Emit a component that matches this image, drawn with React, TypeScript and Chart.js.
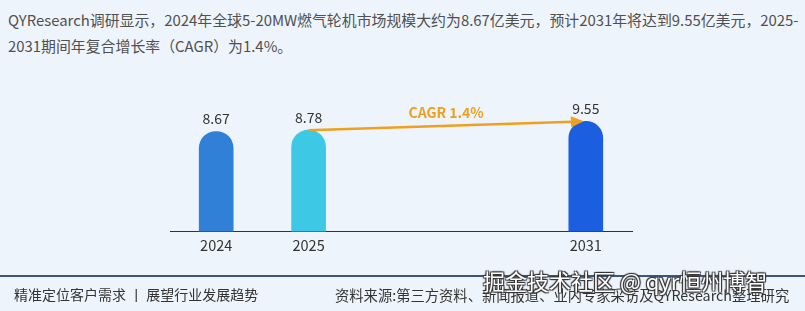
import React, { useEffect, useRef } from "react";
import { Chart, registerables } from "chart.js";

Chart.register(...registerables);

const categories = ["2024", "2025", "", "", "2031"];
const values: (number | null)[] = [8.67, 8.78, null, null, 9.55];
const barColors = ["#2f80d6", "#3dc8e6", "#1b5fe0"];
const cagrLabel = "CAGR 1.4%";
const titleLine1 = "QYResearch调研显示，2024年全球5-20MW燃气轮机市场规模大约为8.67亿美元，预计2031年将达到9.55亿美元，2025-";
const titleLine2 = "2031期间年复合增长率（CAGR）为1.4%。";
const footerLeft = "精准定位客户需求 丨 展望行业发展趋势";
const footerRight = "资料来源:第三方资料、新闻报道、业内专家采访及QYResearch整理研究";
const siteMark = "掘金技术社区 @ qyr恒州博智";

const FONT = '"Noto Sans CJK SC", "Noto Sans", sans-serif';

const labelPlugin = {
  id: "valueLabels",
  afterDatasetsDraw(chart: any) {
    const { ctx } = chart;
    const meta = chart.getDatasetMeta(0);
    ctx.save();
    ctx.font = `14px ${FONT}`;
    ctx.fillStyle = "#333333";
    ctx.textAlign = "center";
    ctx.textBaseline = "middle";
    meta.data.forEach((el: any, i: number) => {
      const v = values[i];
      if (v == null) return;
      ctx.fillText(v.toFixed(2), el.x, el.y - 13);
    });
    const xs = chart.scales.x;
    const ys = chart.scales.y;
    const x0 = xs.getPixelForValue(1);
    const y0 = ys.getPixelForValue(values[1] as number);
    const x1 = xs.getPixelForValue(4);
    const y1 = ys.getPixelForValue(values[4] as number);
    const color = "#f0a01c";
    ctx.strokeStyle = color;
    ctx.fillStyle = color;
    ctx.lineWidth = 2.5;
    const ang = Math.atan2(y1 - y0, x1 - x0);
    const hl = 14;
    const ex = x1 - Math.cos(ang) * 2;
    const ey = y1 - Math.sin(ang) * 2;
    ctx.beginPath();
    ctx.moveTo(x0, y0);
    ctx.lineTo(ex - Math.cos(ang) * hl * 0.8, ey - Math.sin(ang) * hl * 0.8);
    ctx.stroke();
    ctx.beginPath();
    ctx.moveTo(ex, ey);
    ctx.lineTo(ex - hl * Math.cos(ang - 0.4), ey - hl * Math.sin(ang - 0.4));
    ctx.lineTo(ex - hl * Math.cos(ang + 0.4), ey - hl * Math.sin(ang + 0.4));
    ctx.closePath();
    ctx.fill();
    ctx.font = `bold 14px ${FONT}`;
    ctx.fillText(cagrLabel, (x0 + x1) / 2 - 1, (y0 + y1) / 2 - 13);
    ctx.restore();
  },
};

function ChartCanvas() {
  const ref = useRef<HTMLCanvasElement | null>(null);
  useEffect(() => {
    if (!ref.current) return;
    const chart = new Chart(ref.current, {
      type: "bar",
      data: {
        labels: categories,
        datasets: [
          {
            data: values,
            backgroundColor: [barColors[0], barColors[1], "#000", "#000", barColors[2]],
            barThickness: 34,
            borderRadius: 17,
            borderSkipped: "start",
          },
        ],
      },
      options: {
        animation: false,
        responsive: false,
        maintainAspectRatio: false,
        layout: { padding: { left: 170, right: 173, top: 93, bottom: 52 } },
        plugins: { legend: { display: false }, tooltip: { enabled: false }, title: { display: false } },
        scales: {
          x: {
            grid: { display: false, drawTicks: false },
            border: { display: true, color: "#333333", width: 1 },
            ticks: { color: "#333333", font: { family: FONT, size: 14.5 }, padding: 5 },
          },
          y: { display: false, min: 0, max: 12 },
        },
      },
      plugins: [labelPlugin],
    });
    return () => chart.destroy();
  }, []);
  return (
    <canvas
      ref={ref}
      width={805}
      height={311}
      style={{ position: "absolute", left: 0, top: 0, width: 805, height: 311 }}
    />
  );
}

export default function App() {
  return (
    <div
      style={{
        position: "fixed",
        left: 0,
        top: 0,
        width: 805,
        height: 311,
        background: "#eef4fb",
        overflow: "hidden",
        fontFamily: FONT,
      }}
    >
      <div
        style={{
          position: "absolute",
          left: 8,
          top: 7,
          fontSize: 14.9,
          lineHeight: "25.5px",
          color: "#505050",
          whiteSpace: "nowrap",
        }}
      >
        {titleLine1}
        <br />
        {titleLine2}
      </div>
      <ChartCanvas />
      <div
        style={{ position: "absolute", left: 0, top: 275, width: 805, height: 1.5, background: "#3b587c" }}
      />
      <div
        style={{ position: "absolute", left: 14, top: 284, fontSize: 14, color: "#333", whiteSpace: "nowrap" }}
      >
        {footerLeft}
      </div>
      <div
        style={{ position: "absolute", left: 335, top: 284, fontSize: 14.3, color: "#333", whiteSpace: "nowrap" }}
      >
        {footerRight}
      </div>
      <div
        style={{
          position: "absolute",
          left: 483,
          top: 264,
          fontSize: 22,
          color: "#ffffff",
          whiteSpace: "nowrap",
          textShadow: "1px 1px 1px #333, -1px -1px 1px #333, 1px -1px 1px #333, -1px 1px 1px #333",
        }}
      >
        {siteMark}
      </div>
    </div>
  );
}
